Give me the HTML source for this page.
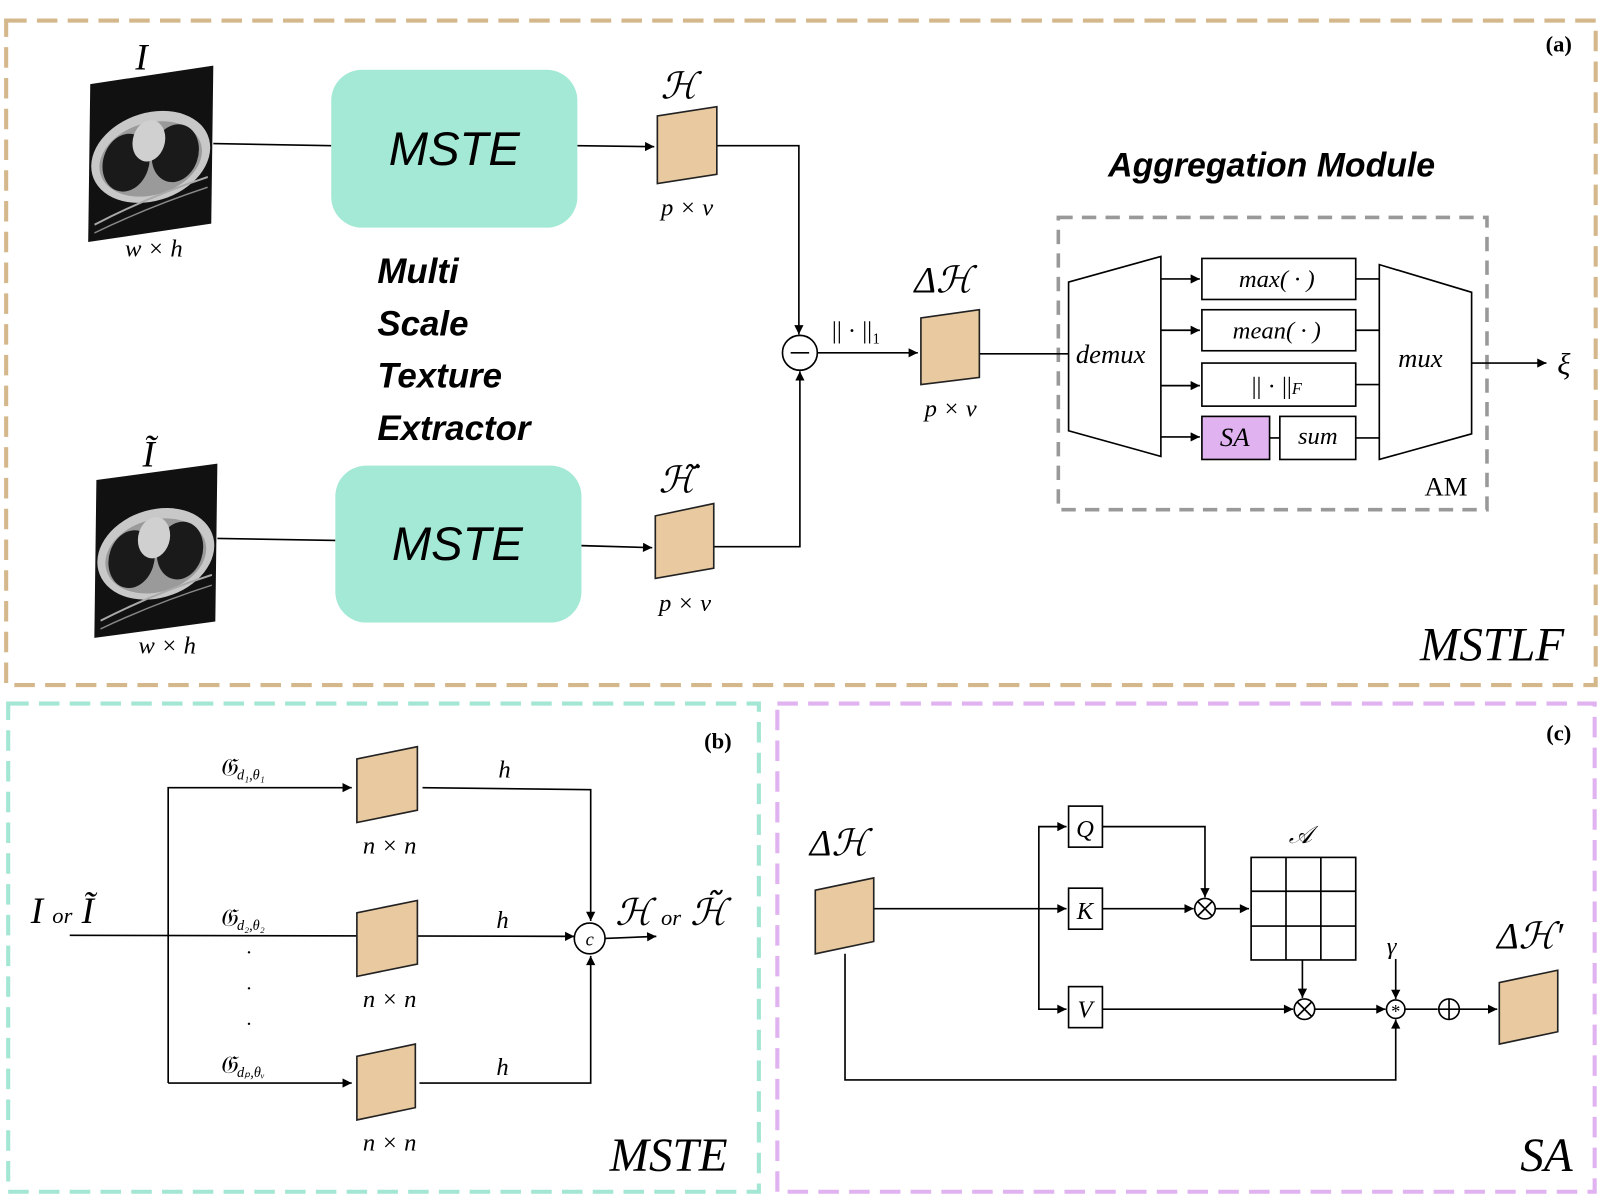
<!DOCTYPE html>
<html><head><meta charset="utf-8"><style>html,body{margin:0;padding:0;background:#fff}svg{display:block}</style></head><body>
<svg width="1608" height="1202" viewBox="0 0 1568 1172" preserveAspectRatio="none" xmlns="http://www.w3.org/2000/svg" font-family="Liberation Serif, serif">
<defs>
<marker id="ar" viewBox="0 0 10 10" refX="10" refY="5" markerWidth="18" markerHeight="9" markerUnits="userSpaceOnUse" orient="auto"><path d="M0,0 L10,5 L0,10 z" fill="#000"/></marker>
<g id="ct">
<rect x="0" y="0" width="120" height="154" fill="#111"/>
<ellipse cx="60" cy="80" rx="58" ry="44" fill="#c8c8c8"/>
<ellipse cx="60" cy="82" rx="50" ry="36" fill="#9a9a9a"/>
<ellipse cx="36" cy="82" rx="23" ry="28" fill="#1a1a1a"/>
<ellipse cx="84" cy="80" rx="23" ry="28" fill="#1a1a1a"/>
<ellipse cx="58" cy="64" rx="16" ry="20" fill="#d0d0d0"/>
<path d="M6,138 Q60,118 116,108" stroke="#aaa" stroke-width="2" fill="none"/>
<path d="M6,146 Q60,128 116,118" stroke="#888" stroke-width="1.5" fill="none"/>
</g>
</defs>
<g fill="none" stroke-width="4" stroke-dasharray="20 10">
<rect x="6" y="20" width="1550" height="648" stroke="#d4b88c"/>
<rect x="8" y="686" width="732" height="476" stroke="#a3e6d3"/>
<rect x="758" y="686" width="797" height="476" stroke="#e0b2f0"/>
<rect x="1032" y="212" width="418" height="285" stroke="#999" stroke-width="3.5" stroke-dasharray="14 9"/>
</g>
<g stroke="#000" stroke-width="1.6" fill="none">
<path d="M208,140 L323,142"/><path d="M563,142 L638,143" marker-end="url(#ar)"/>
<path d="M699,142 L779,142 L779,326" marker-end="url(#ar)"/>
<path d="M212,525 L327,527"/><path d="M567,532 L636,534" marker-end="url(#ar)"/>
<path d="M696,533 L780,533 L780,362" marker-end="url(#ar)"/>
<circle cx="780" cy="344" r="17"/><path d="M771,344 L789,344"/>
<path d="M797,344 L895,344" marker-end="url(#ar)"/>
<path d="M955,345 L1042,345"/>
<path d="M1042,275 L1132,250 L1132,445 L1042,420 Z"/>
<path d="M1132,272 L1170,272" marker-end="url(#ar)"/><path d="M1132,322 L1170,322" marker-end="url(#ar)"/>
<path d="M1132,376 L1170,376" marker-end="url(#ar)"/><path d="M1132,426 L1170,426" marker-end="url(#ar)"/>
<rect x="1172" y="252" width="150" height="40"/><rect x="1172" y="302" width="150" height="40"/>
<rect x="1172" y="354" width="150" height="42"/>
<rect x="1172" y="406" width="66" height="42" fill="#e0b2f0"/><rect x="1248" y="406" width="74" height="42"/>
<path d="M1238,427 L1248,427"/>
<path d="M1322,272 L1345,272 M1322,322 L1345,322 M1322,375 L1345,375 M1322,427 L1345,427"/>
<path d="M1345,258 L1435,285 L1435,423 L1345,448 Z"/>
<path d="M1435,354 L1508,354" marker-end="url(#ar)"/>
<path d="M68,912 L560,913" marker-end="url(#ar)"/>
<path d="M164,1056 L164,768 L343,768" marker-end="url(#ar)"/>
<path d="M164,1056 L343,1056" marker-end="url(#ar)"/>
<path d="M412,768 L576,770 L576,898" marker-end="url(#ar)"/>
<path d="M409,1056 L576,1056 L576,932" marker-end="url(#ar)"/>
<circle cx="575" cy="915" r="15"/>
<path d="M590,915 L640,913" marker-end="url(#ar)"/>
<path d="M852,886 L1040,886" marker-end="url(#ar)"/>
<path d="M1013,886 L1013,806 L1040,806" marker-end="url(#ar)"/>
<path d="M1013,886 L1013,984 L1040,984" marker-end="url(#ar)"/>
<rect x="1042" y="786" width="33" height="40"/><rect x="1042" y="866" width="33" height="40"/><rect x="1042" y="962" width="33" height="40"/>
<path d="M1075,806 L1175,806 L1175,875" marker-end="url(#ar)"/>
<path d="M1075,886 L1164,886" marker-end="url(#ar)"/>
<circle cx="1175" cy="886" r="10"/><path d="M1168,879 L1182,893 M1182,879 L1168,893"/>
<path d="M1185,886 L1218,886" marker-end="url(#ar)"/>
<rect x="1220" y="836" width="102" height="100"/>
<path d="M1254,836 V936 M1288,836 V936 M1220,869 H1322 M1220,903 H1322"/>
<path d="M1270,936 L1270,973" marker-end="url(#ar)"/>
<circle cx="1272" cy="984" r="10"/><path d="M1265,977 L1279,991 M1279,977 L1265,991"/>
<path d="M1075,984 L1261,984" marker-end="url(#ar)"/>
<path d="M1282,984 L1351,984" marker-end="url(#ar)"/>
<circle cx="1361" cy="984" r="9"/>
<path d="M1361,935 L1361,974" marker-end="url(#ar)"/>
<path d="M824,930 L824,1053 L1361,1053 L1361,994" marker-end="url(#ar)"/>
<path d="M1370,984 L1402,984"/>
<circle cx="1413" cy="984" r="10"/><path d="M1403,984 H1423 M1413,974 V994"/>
<path d="M1423,984 L1460,984" marker-end="url(#ar)"/>
</g>
<g fill="#e8c9a0" stroke="#222" stroke-width="1.6">
<path d="M641,113 L699,104 L699,170 L641,179 Z"/>
<path d="M639,503 L696,491 L696,554 L639,564 Z"/>
<path d="M898,310 L955,302 L955,368 L898,375 Z"/>
<path d="M348,740 L407,728 L407,790 L348,802 Z"/>
<path d="M348,890 L407,878 L407,940 L348,952 Z"/>
<path d="M348,1030 L405,1018 L405,1080 L348,1092 Z"/>
<path d="M795,868 L852,856 L852,918 L795,930 Z"/>
<path d="M1462,958 L1519,946 L1519,1006 L1462,1018 Z"/>
</g>
<rect x="323" y="68" width="240" height="154" rx="30" fill="#a3e9d5"/>
<rect x="327" y="454" width="240" height="153" rx="30" fill="#a3e9d5"/>
<use href="#ct" transform="matrix(1,-0.15,-0.013,1,88,82)"/>
<use href="#ct" transform="matrix(0.983,-0.133,-0.013,1.0,94,468)"/>
<g font-style="italic" text-anchor="middle" fill="#000">
<text x="443" y="161" font-size="46" font-family="Liberation Sans, sans-serif" font-style="italic">MSTE</text>
<text x="446" y="546" font-size="46" font-family="Liberation Sans, sans-serif" font-style="italic">MSTE</text>
<text x="138" y="68" font-size="36">I</text>
<text x="150" y="250" font-size="24">w × h</text>
<text x="145" y="455" font-size="36">Ĩ</text>
<text x="163" y="637" font-size="24">w × h</text>
<text x="662" y="96" font-size="36">ℋ</text>
<text x="670" y="210" font-size="24">p × v</text>
<text x="660" y="480" font-size="36">ℋ̃</text>
<text x="668" y="596" font-size="24">p × v</text>
<text x="920" y="285" font-size="36">Δℋ</text>
<text x="927" y="406" font-size="24">p × v</text>
<text x="835" y="330" font-size="24" font-style="normal">|| · ||₁</text>
<text x="1083" y="354" font-size="26">demux</text>
<text x="1385" y="358" font-size="26">mux</text>
<text x="1245" y="280" font-size="24">max( · )</text>
<text x="1245" y="330" font-size="24">mean( · )</text>
<text x="1245" y="384" font-size="24" font-style="normal">|| · ||<tspan font-style="italic" font-size="16">F</tspan></text>
<text x="1204" y="435" font-size="26">SA</text>
<text x="1285" y="433" font-size="24">sum</text>
<text x="1525" y="365" font-size="30">ξ</text>
<text x="1410" y="483" font-size="26" font-style="normal">AM</text>
<text x="1455" y="644" font-size="46">MSTLF</text>
<text x="652" y="1142" font-size="46">MSTE</text>
<text x="1508" y="1142" font-size="46">SA</text>
<text x="380" y="832" font-size="24">n × n</text>
<text x="380" y="982" font-size="24">n × n</text>
<text x="380" y="1122" font-size="24">n × n</text>
<text x="492" y="758" font-size="24">h</text>
<text x="490" y="905" font-size="24">h</text>
<text x="490" y="1048" font-size="24">h</text>
<text x="575" y="922" font-size="18">c</text>
<text x="1361" y="992" font-size="18" font-style="normal">*</text>
<text x="1357" y="930" font-size="24">γ</text>
<text x="1268" y="822" font-size="24">𝒜</text>
<text x="818" y="834" font-size="36">Δℋ</text>
<text x="1492" y="925" font-size="36">Δℋ′</text>
<text x="1058" y="816" font-size="24">Q</text>
<text x="1058" y="896" font-size="24">K</text>
<text x="1058" y="992" font-size="24">V</text>
</g>
<g font-style="italic" fill="#000">
<text x="30" y="900" font-size="36">I <tspan font-size="22">or</tspan> Ĩ</text>
<text x="600" y="902" font-size="36">ℋ <tspan font-size="22">or</tspan> ℋ̃</text>
<text x="214" y="756" font-size="24">𝔊<tspan font-size="14" dy="4">d₁,θ₁</tspan></text>
<text x="214" y="903" font-size="24">𝔊<tspan font-size="14" dy="4">d₂,θ₂</tspan></text>
<text x="214" y="1046" font-size="24">𝔊<tspan font-size="14" dy="4">dₚ,θᵥ</tspan></text>
<text x="240" y="935" font-size="20">·</text><text x="240" y="970" font-size="20">·</text><text x="240" y="1005" font-size="20">·</text>
</g>
<g font-family="Liberation Sans, sans-serif" font-weight="bold" font-style="italic" font-size="34" fill="#000">
<text x="368" y="276">Multi</text>
<text x="368" y="327">Scale</text>
<text x="368" y="378">Texture</text>
<text x="368" y="429">Extractor</text>
<text x="1240" y="172" text-anchor="middle" font-size="33">Aggregation Module</text>
</g>
<g font-weight="bold" font-size="22" fill="#000" text-anchor="middle">
<text x="1520" y="50">(a)</text>
<text x="700" y="730">(b)</text>
<text x="1520" y="722">(c)</text>
</g>
</svg>
</body></html>
